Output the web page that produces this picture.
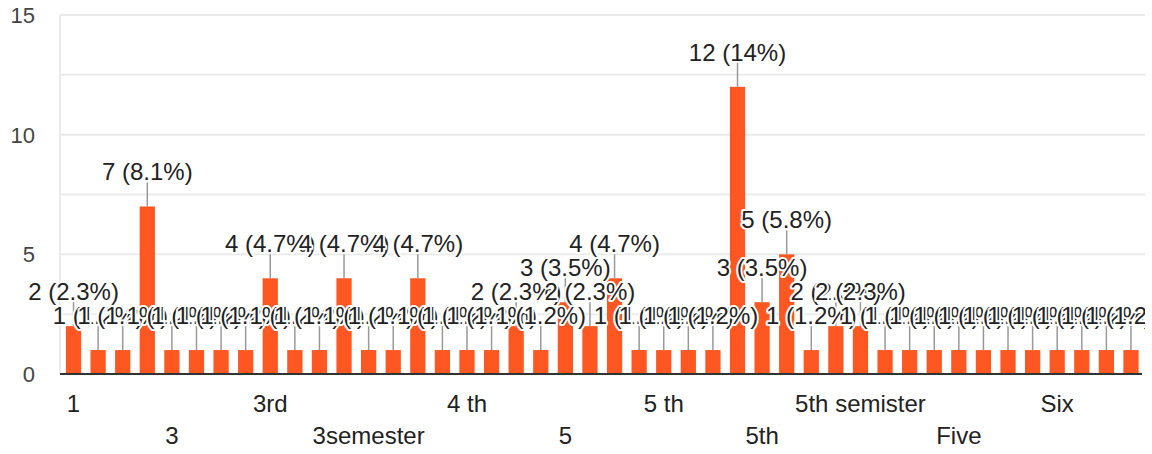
<!DOCTYPE html>
<html>
<head>
<meta charset="utf-8">
<script src="https://cdn.jsdelivr.net/npm/d3@7"></script>
<style>
  body { margin: 0; background: #fff; }
  svg { display: block; font-family: Arial, "Liberation Sans", sans-serif; }
</style>
</head>
<body>
<div id="chart"></div>
<script>
;(function() {
  // answers as they came in, one bar each
  var categories = [
    '1', '1 st', '1st semester', '2',
    '3', '3 rd', '3 sem', '3 semester',
    '3rd', '3rd sem', '3rd semester', '3rd Semester',
    '3semester', '4', '4 semester', '4 sem',
    '4 th', '4th', '4th sem', '4th semester',
    '5', '5 sem', '5 semester', '5 semister',
    '5 th', '5 th sem', '5 th semester', '5semester',
    '5th', '5th sem', '5th Sem', '5th semester',
    '5th semister', '5th Semester', '6', 'Fifth',
    'Five', 'Forth', 'Fourth', 'Second',
    'Six', 'Sixth', 'Third', 'Three'
  ]
  var counts = [
    2, 1, 1, 7, 1, 1, 1, 1, 4, 1, 1, 4, 1, 1, 4, 1, 1, 1, 2, 1, 3, 2,
    4, 1, 1, 1, 1, 12, 3, 5, 1, 2, 2, 1, 1, 1, 1, 1, 1, 1, 1, 1, 1, 1
  ]
  var yTicks = [0, 5, 10, 15]
  var yGrid = [2.5, 5, 7.5, 10, 12.5, 15]

  var data = categories.map(function(c, i) {
    return { name: c, count: counts[i], i: i }
  })
  var total = d3.sum(counts)
  var pct = d3.format('.2r')

  var width = 1152
  var height = 454

  var svg = d3
    .select('#chart')
    .append('svg')
    .attr('width', width)
    .attr('height', height)

  // labels get cut at the right edge of the chart area
  svg
    .append('clipPath')
    .attr('id', 'plot-clip')
    .append('rect')
    .attr('x', 0)
    .attr('y', 0)
    .attr('width', 1145)
    .attr('height', height)

  var xPositionScale = d3
    .scaleBand()
    .domain(categories)
    .range([60, 1144.5])
    .paddingInner(0.38)
    .paddingOuter(0.24)

  var yPositionScale = d3
    .scaleLinear()
    .domain([0, 15])
    .range([374, 15])

  // gridlines
  svg
    .selectAll('.grid')
    .data(yGrid)
    .enter()
    .append('line')
    .attr('x1', 60)
    .attr('x2', 1145)
    .attr('y1', d => yPositionScale(d))
    .attr('y2', d => yPositionScale(d))
    .attr('stroke', '#ebebeb')
    .attr('stroke-width', 2)

  svg
    .append('line')
    .attr('x1', 60)
    .attr('x2', 60)
    .attr('y1', yPositionScale(15))
    .attr('y2', yPositionScale(0))
    .attr('stroke', '#ebebeb')
    .attr('stroke-width', 2)

  // y tick labels
  svg
    .selectAll('.ytick')
    .data(yTicks)
    .enter()
    .append('text')
    .text(d => d)
    .attr('x', 35)
    .attr('y', d => yPositionScale(d) + 8)
    .attr('text-anchor', 'end')
    .attr('font-size', 22)
    .attr('fill', '#444')

  // bars
  svg
    .selectAll('.bar')
    .data(data)
    .enter()
    .append('rect')
    .attr('x', d => xPositionScale(d.name))
    .attr('width', xPositionScale.bandwidth())
    .attr('y', d => yPositionScale(d.count))
    .attr('height', d => yPositionScale(0) - yPositionScale(d.count))
    .attr('fill', '#ff5722')

  // baseline
  svg
    .append('line')
    .attr('x1', 60)
    .attr('x2', 1142)
    .attr('y1', yPositionScale(0))
    .attr('y2', yPositionScale(0))
    .attr('stroke', '#333')
    .attr('stroke-width', 2)

  var cx = d => xPositionScale(d.name) + xPositionScale.bandwidth() / 2

  var notes = svg.append('g').attr('clip-path', 'url(#plot-clip)')

  // annotation stems
  notes
    .selectAll('.stem')
    .data(data)
    .enter()
    .append('line')
    .attr('x1', cx)
    .attr('x2', cx)
    .attr('y1', d => yPositionScale(d.count))
    .attr('y2', d => yPositionScale(d.count) - 24)
    .attr('stroke', '#999')
    .attr('stroke-width', 1.5)

  // annotation labels, later ones on top
  notes
    .selectAll('.label')
    .data(data)
    .enter()
    .append('text')
    .text(d => d.count + ' (' + pct((d.count / total) * 100) + '%)')
    .attr('x', cx)
    .attr('y', d => yPositionScale(d.count) - 26)
    .attr('text-anchor', 'middle')
    .attr('font-size', 24)
    .attr('fill', '#222')
    .attr('stroke', '#fff')
    .attr('stroke-width', 4)
    .attr('stroke-linejoin', 'round')
    .attr('paint-order', 'stroke')

  // x labels, every fourth, alternating rows
  svg
    .selectAll('.xlabel')
    .data(data.filter(d => d.i % 4 === 0))
    .enter()
    .append('text')
    .text(d => d.name)
    .attr('x', cx)
    .attr('y', d => (d.i % 8 === 0 ? 411.5 : 444))
    .attr('text-anchor', 'middle')
    .attr('font-size', 24)
    .attr('fill', '#222')
})()
</script>
</body>
</html>
